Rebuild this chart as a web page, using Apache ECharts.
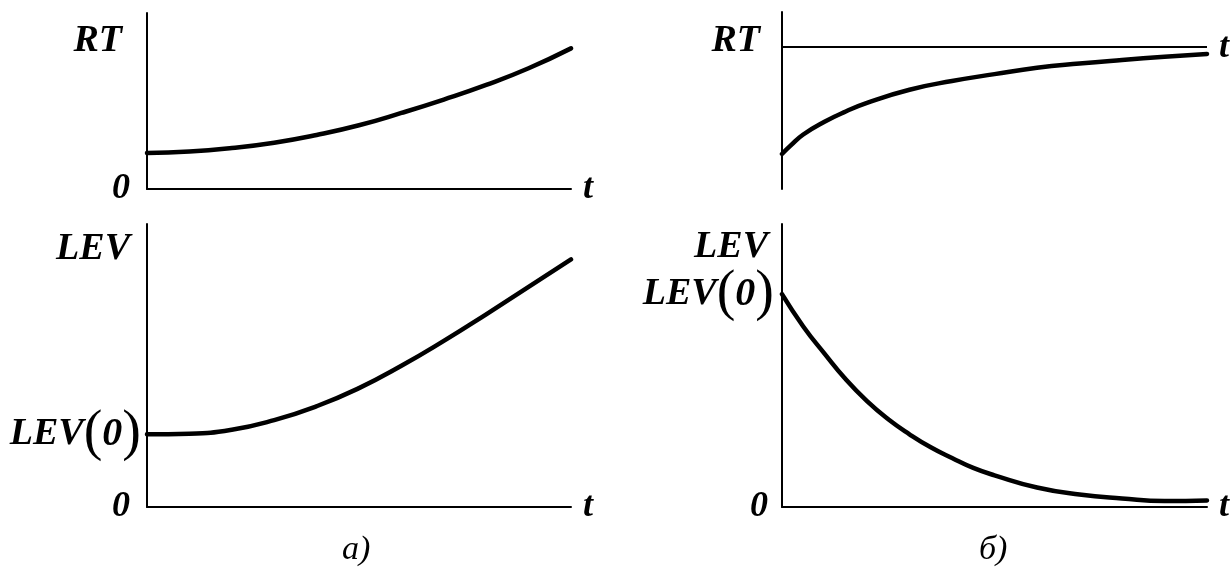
<!DOCTYPE html>
<html>
<head>
<meta charset="utf-8">
<script src="https://cdn.jsdelivr.net/npm/echarts@6/dist/echarts.min.js"></script>
<style>
  html, body { margin: 0; padding: 0; background: #fff; }
  #chart { width: 1232px; height: 569px; }
</style>
</head>
<body>
<div id="chart"></div>
<script>
// Time runs 0..100 along every horizontal axis; each vertical axis spans 0..100.

// а) RT grows with time
const rtGrowthT = [0, 10, 20, 30, 40, 50, 60, 70, 80, 90, 100];
const rtGrowth  = [20.5, 21.3, 23.3, 26.3, 30.7, 36.2, 43.2, 50.8, 59.1, 68.6, 79.9];

// б) RT approaches its ceiling
const rtSatT = [0, 2, 5, 10, 15, 20, 30, 40, 50, 60, 70, 80, 90, 100];
const rtSat  = [19.8, 24.5, 30.8, 38.0, 43.8, 48.7, 56.1, 61.0, 64.9, 68.5, 70.9, 72.9, 74.7, 76.3];
const rtCeiling = 80.1;

// а) LEV grows from LEV(0)
const levGrowthT = [0, 10, 20, 30, 40, 50, 60, 70, 80, 90, 100];
const levGrowth  = [25.7, 25.9, 27.3, 30.7, 35.6, 42.0, 49.9, 58.7, 68.1, 77.8, 87.5];

// б) LEV decays from LEV(0) towards zero
const levDecayT = [0, 5, 10, 15, 20, 25, 30, 35, 40, 45, 50, 60, 70, 80, 90, 100];
const levDecay  = [75.2, 63.8, 54.2, 45.1, 37.4, 31.0, 25.7, 21.1, 17.3, 13.8, 11.2, 6.9, 4.4, 3.0, 2.1, 2.3];

// Vertical-axis labels: value -> text
const rtGrowthLabels   = [[0, '0'], [84, 'RT']];
const rtSatLabels      = [[83.6, 'RT']];
const levGrowthLabels  = [[0, '0'], [25.7, 'LEV(0)'], [91, 'LEV']];
const levDecayLabels   = [[0, '0'], [75.2, 'LEV(0)']];
const levDecayTopLabel = [[91.7, 'LEV']];

const timeLabel = 't';
const captions = ['а)', 'б)'];

const zip = (xs, ys) => xs.map((x, i) => [x, ys[i]]);

const serif = '"Liberation Serif", "Times New Roman", serif';
const boldItalic = { fontFamily: serif, fontWeight: 'bold', fontStyle: 'italic', color: '#000' };

// right-hand gaps between each kind of label and its vertical axis
function richFor(gap) {
  const lh = 28;
  return {
    z: Object.assign({ fontSize: 36, lineHeight: lh, padding: [0, gap.zero, 0, 0] }, boldItalic),
    w: Object.assign({ fontSize: 38, lineHeight: lh, padding: [0, gap.word, 0, 0] }, boldItalic),
    l: Object.assign({ fontSize: 38, lineHeight: lh }, boldItalic),
    n: Object.assign({ fontSize: 40, lineHeight: lh }, boldItalic),
    p: { fontFamily: serif, fontSize: 56, lineHeight: lh, color: '#000', padding: [0, gap.paren, 0, 0] },
    q: { fontFamily: serif, fontSize: 56, lineHeight: lh, color: '#000' }
  };
}

function formatLabel(text) {
  if (text === '0') return '{z|0}';
  const m = text.match(/^(.*)\((.*)\)$/);
  if (m) return '{l|' + m[1] + '}{q|(}{n|' + m[2] + '}{p|)}';
  return '{w|' + text + '}';
}

// tick values may come back with float noise, so match the closest label
function labelAt(labels, v) {
  let best = labels[0];
  labels.forEach(l => { if (Math.abs(l[0] - v) < Math.abs(best[0] - v)) best = l; });
  return Math.abs(best[0] - v) < 0.5 ? best[1] : '';
}

function yAxisFor(gridIndex, labels, gap, showLine) {
  return {
    type: 'value', gridIndex, min: 0, max: 100,
    position: 'left',
    splitLine: { show: false },
    axisTick: { show: false },
    axisLine: { show: showLine !== false, lineStyle: { color: '#000', width: 2 } },
    axisLabel: {
      show: true,
      margin: 2,
      hideOverlap: false,
      showMinLabel: true,
      showMaxLabel: true,
      customValues: labels.map(l => l[0]),
      formatter: v => formatLabel(labelAt(labels, v)),
      rich: richFor(gap)
    }
  };
}

function xAxisFor(gridIndex, showLine, nameGap) {
  return {
    type: 'value', gridIndex, min: 0, max: 100,
    splitLine: { show: false },
    axisTick: { show: false },
    axisLabel: { show: false },
    axisLine: { show: showLine, lineStyle: { color: '#000', width: 2 } },
    name: showLine ? timeLabel : '',
    nameLocation: 'end',
    nameGap: nameGap,
    nameTextStyle: Object.assign({ fontSize: 36, verticalAlign: 'middle', padding: [6, 0, 0, 0] }, boldItalic)
  };
}

const curveStyle = { color: '#000', width: 4.5, cap: 'round', join: 'round' };

function curve(gridIndex, xs, ys, extra) {
  return Object.assign({
    type: 'line',
    xAxisIndex: gridIndex, yAxisIndex: gridIndex,
    data: zip(xs, ys),
    smooth: 0.5,
    showSymbol: false,
    clip: false,
    silent: true,
    animation: false,
    lineStyle: curveStyle
  }, extra || {});
}

const chart = echarts.init(document.getElementById('chart'), null, { renderer: 'canvas' });

const decayGap = { zero: 12, word: 12, paren: 6 };

chart.setOption({
  backgroundColor: '#fff',
  animation: false,
  grid: [
    { left: 147, top: 13,  width: 424, height: 176 },
    { left: 782, top: 12,  width: 425, height: 177 },
    { left: 147, top: 224, width: 424, height: 283 },
    { left: 782, top: 224, width: 425, height: 283 }
  ],
  xAxis: [xAxisFor(0, true, 12), xAxisFor(1, false, 0), xAxisFor(2, true, 12), xAxisFor(3, true, 12)],
  yAxis: [
    yAxisFor(0, rtGrowthLabels,  { zero: 15, word: 23, paren: 0 }),
    yAxisFor(1, rtSatLabels,     { zero: 10, word: 20, paren: 0 }),
    yAxisFor(2, levGrowthLabels, { zero: 15, word: 15, paren: 4 }),
    yAxisFor(3, levDecayLabels,  decayGap),
    // the axis title of panel б) sits close above LEV(0), so it gets its own label carrier
    yAxisFor(3, levDecayTopLabel, decayGap, false)
  ],
  series: [
    curve(0, rtGrowthT, rtGrowth),
    curve(1, rtSatT, rtSat, {
      markLine: {
        silent: true,
        symbol: 'none',
        animation: false,
        lineStyle: { color: '#000', width: 2, type: 'solid' },
        label: Object.assign({ show: true, position: 'end', formatter: timeLabel, fontSize: 36, distance: 12, padding: [8, 0, 0, 0] }, boldItalic),
        data: [{ yAxis: rtCeiling }]
      }
    }),
    curve(2, levGrowthT, levGrowth),
    curve(3, levDecayT, levDecay)
  ],
  graphic: [
    { type: 'text', left: 342, top: 533, style: { text: captions[0], font: 'italic 34px ' + serif, fill: '#000' } },
    { type: 'text', left: 979, top: 533, style: { text: captions[1], font: 'italic 34px ' + serif, fill: '#000' } }
  ]
});
</script>
</body>
</html>
